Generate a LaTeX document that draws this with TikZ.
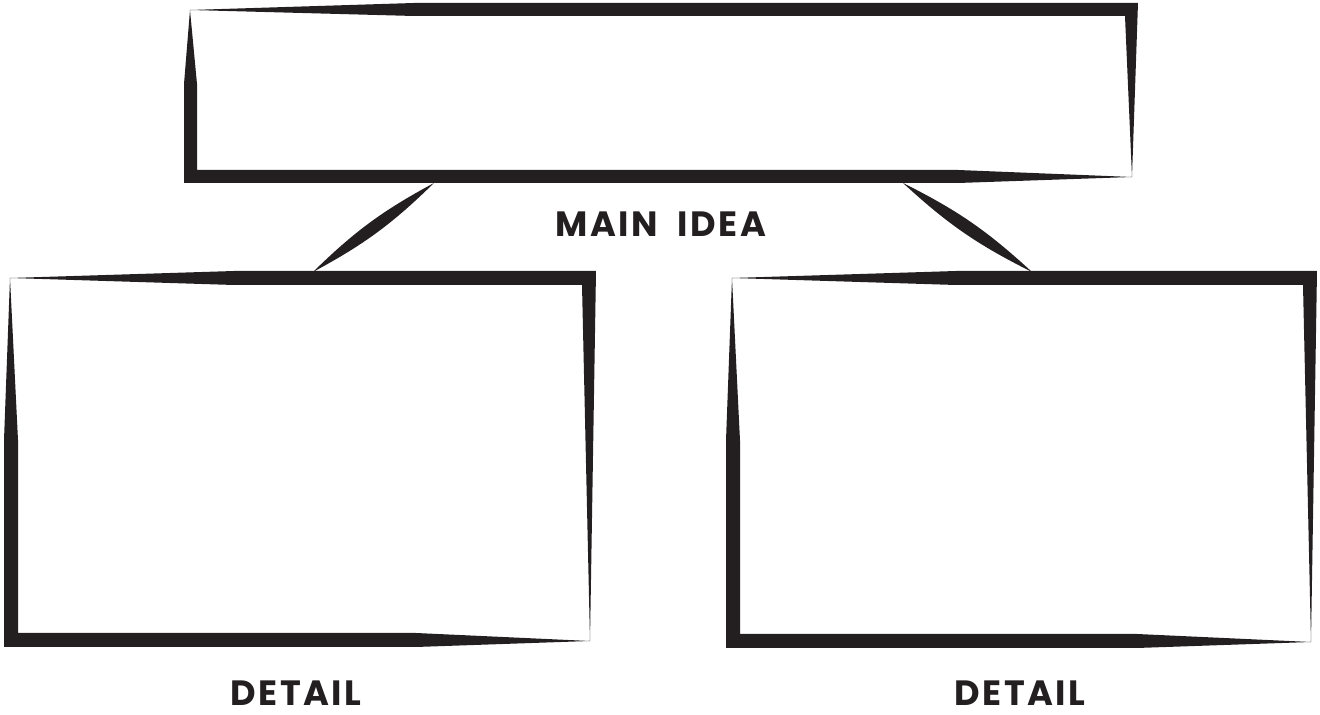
\documentclass[tikz,border=0pt]{standalone}
\usepackage{fontspec}
\newfontfamily\labelfont{Poppins}[LetterSpace=7, WordSpace=2]
\usetikzlibrary{positioning,calc}
\definecolor{ink}{HTML}{231F20}

% brush frame: left, top, right, bottom (outer edges), thickness
\newcommand{\brushframe}[5]{%
  \fill[ink, even odd rule]
    % outer edge
    ({#1+6},{#2+7}) -- ({#1+230},{#2}) -- (#3,#2)
      -- ({#3-6},{#4-6})
      -- ({#3-180},#4) -- (#1,#4)
      -- (#1,{#2+0.45*(#4-#2)}) -- cycle
    % inner edge
    ({#1+6},{#2+7}) -- ({#1+230},{#2+#5}) -- ({#3-#5},{#2+#5})
      -- ({#3-6},{#4-6})
      -- ({#3-180},{#4-#5}) -- ({#1+#5},{#4-#5})
      -- ({#1+#5},{#2+0.45*(#4-#2)}) -- cycle;}

\begin{document}
\begin{tikzpicture}[
    x=0.02cm, y=-0.02cm,
    label/.style={font=\labelfont\bfseries\fontsize{20}{24}\selectfont, text=ink, inner sep=0pt},
    stroke/.style={fill=ink}
]
    \useasboundingbox (0,0) rectangle (1320,715);

    % frames
    \brushframe{184}{3}{1138}{183}{13}
    \brushframe{4}{271}{596}{647}{14}
    \brushframe{726}{271}{1317}{648}{14}

    % connectors
    \coordinate (mainL) at (434,183);
    \coordinate (mainR) at (903,183);
    \coordinate (leftT) at (313,272);
    \coordinate (rightT) at (1032,272);
    \fill [stroke] (mainL) to[bend left=8] (leftT) to[bend left=8] (mainL);
    \fill [stroke] (mainR) to[bend left=8] (rightT) to[bend left=8] (mainR);

    % labels
    \node [label] (mainlabel) at (661,224) {MAIN IDEA};
    \node [label] (leftlabel) at (296,693) {DETAIL};
    \node [label] (rightlabel) at (1020,693) {DETAIL};
\end{tikzpicture}
\end{document}
